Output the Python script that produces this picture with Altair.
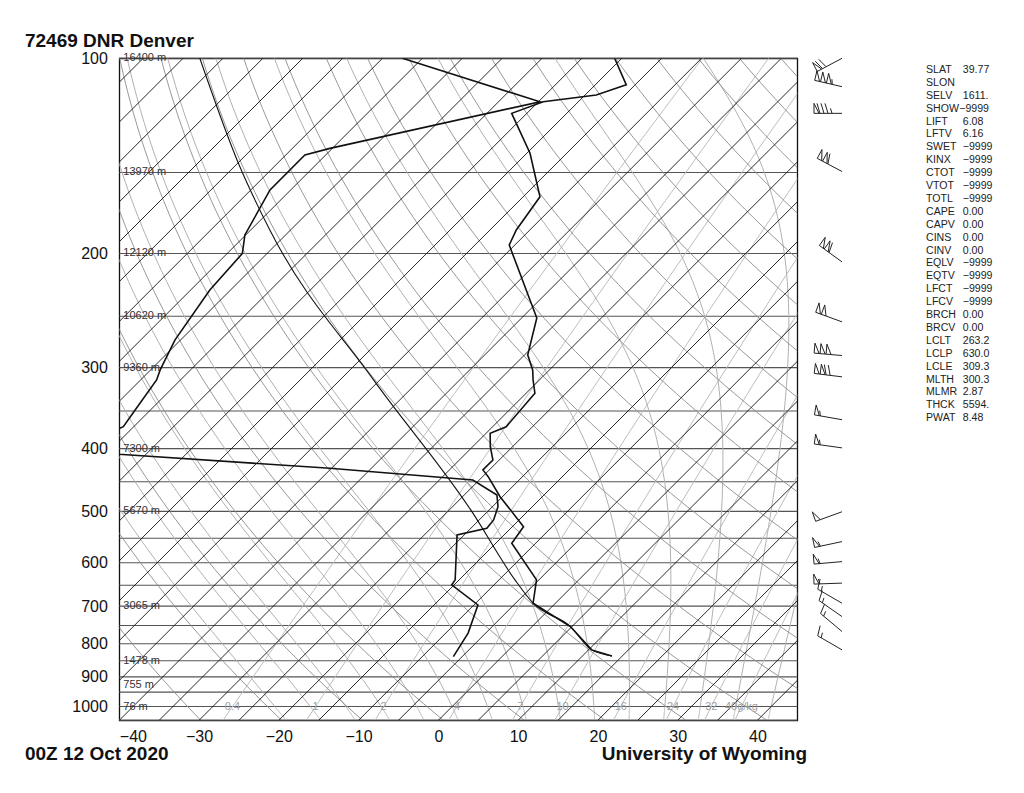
import altair as alt
import numpy as np
import pandas as pd

# ---------------- data ----------------
temp_p = [100.0, 109.9, 113.9, 116.7, 121.6, 140.1, 163.5, 184.0, 194.1, 251.5, 286.8, 302.5,
          313.4, 328.6, 370.1, 378.7, 397.2, 416.5, 431.5, 441.9, 474.5, 527.8, 559.8, 637.6,
          692.8, 752.6, 817.7, 835.5]
temp_t = [-60.9, -56.1, -58.6, -64.4, -66.9, -59.6, -52.9, -51.7, -50.7, -38.1, -34.6, -32.1,
          -30.8, -28.9, -28.3, -29.5, -27.8, -25.8, -25.8, -24.3, -20.3, -13.6, -13.0, -5.3,
          -2.8, 4.8, 10.4, 13.7]

dwpt_p = [100.0, 116.7, 137.7, 141.0, 159.6, 187.3, 200.0, 227.7, 271.9, 302.5, 313.4, 352.8,
          370.1, 390.7, 408.1, 428.9, 447.2, 471.7, 491.7, 515.3, 530.8, 543.5, 637.6, 649.2,
          697.0, 770.4, 837.5]
dwpt_t = [-87.5, -64.8, -85.3, -87.6, -87.6, -85.1, -83.1, -82.6, -80.7, -78.8, -78.0, -76.8,
          -76.3, -78.6, -73.4, -45.2, -25.8, -20.9, -19.3, -18.2, -18.0, -20.9, -15.5, -15.3,
          -9.5, -7.2, -6.1]

parcel_p = [835.5, 817.7, 752.6, 692.8, 637.6, 500.0, 313.4, 184.0, 145.2, 100.0]
parcel_t = [13.7, 10.4, 4.8, -2.8, -8.0, -22.0, -50.8, -82.6, -94.9, -112.9]

isobar_p = list(range(100, 1051, 50))
isotherm_t = list(range(-130, 50, 5))
dry_theta_k = list(range(230, 481, 10))
moist_t1000_f = list(range(-8, 121, 8))          # saturated adiabats, deg F at 1000 hPa
mixr_gkg = [0.4, 1, 2, 4, 7, 10, 16, 24, 32, 40]
mixr_lbl = ["0.4", "1", "2", "4", "7", "10", "16", "24", "32", "40g/kg"]

height_p = [100, 150, 200, 250, 300, 400, 500, 700, 850, 925, 1000]
height_lbl = ["16400 m", "13970 m", "12120 m", "10620 m", "9360 m", "7300 m", "5670 m",
              "3065 m", "1478 m", "755 m", "76 m"]

wind_p = [100.0, 110.6, 121.6, 149.5, 206.1, 255.0, 287.4, 310.0, 361.0, 399.0, 500.6, 556.6,
          597.6, 645.0, 692.7, 726.5, 766.0, 817.5]
wind_dir = [242, 283, 270, 298, 306, 290, 275, 277, 280, 278, 250, 258, 265, 268, 300, 305,
            310, 300]
wind_kt = [70, 155, 85, 110, 110, 100, 150, 120, 55, 55, 50, 55, 55, 55, 15, 15, 15, 15]

idx_names = ["SLAT", "SLON", "SELV", "SHOW", "LIFT", "LFTV", "SWET", "KINX", "CTOT", "VTOT",
             "TOTL", "CAPE", "CAPV", "CINS", "CINV", "EQLV", "EQTV", "LFCT", "LFCV", "BRCH",
             "BRCV", "LCLT", "LCLP", "LCLE", "MLTH", "MLMR", "THCK", "PWAT"]
idx_values = ["39.77", "", "1611.", "\u22129999", "6.08", "6.16", "\u22129999", "\u22129999",
              "\u22129999", "\u22129999", "\u22129999", "0.00", "0.00", "0.00", "0.00",
              "\u22129999", "\u22129999", "\u22129999", "\u22129999", "0.00", "0.00", "263.2",
              "630.0", "309.3", "300.3", "2.87", "5594.", "8.48"]

title_txt = "72469 DNR Denver"
time_txt = "00Z 12 Oct 2020"
org_txt = "University of Wyoming"

# ---------------- geometry of the diagram ----------------
W, H = 678, 662
XMIN, XMAX = -40, 45
PMIN, PMAX = 100, 1050
DEC = H / np.log10(PMAX / PMIN)       # px per decade of pressure
PXX = W / (XMAX - XMIN)               # px per degree
K = DEC / PXX                         # skew: 45 degree isotherms
SKEW = f"datum.t + {K:.4f} * log({PMAX} / datum.p) / LN10"

FONT = "Liberation Sans"
xs = alt.Scale(domain=[XMIN, XMAX], nice=False, zero=False)
ys = alt.Scale(type="log", domain=[PMIN, PMAX], reverse=True, nice=False)
AX = alt.Axis(values=list(range(-40, 41, 10)), title=None, grid=False, ticks=False, domain=False,
              labelFontSize=16, labelPadding=8, labelColor="#111", labelFont=FONT)
AY = alt.Axis(values=list(range(100, 1001, 100)), title=None, grid=False, ticks=False,
              domain=False, labelFontSize=16, labelPadding=12, labelColor="#111",
              labelFont=FONT, format="d")
X = alt.X("sx:Q", scale=xs, axis=AX)
Y = alt.Y("p:Q", scale=ys, axis=AY)

levels = np.geomspace(PMAX, PMIN, 80)

# isotherms
iso = pd.DataFrame([{"id": t, "p": p, "t": t} for t in isotherm_t for p in (PMIN, PMAX)])
# dry adiabats
dry = pd.DataFrame([{"id": th, "p": p, "t": th * (p / 1000.0) ** 0.2857 - 273.15}
                    for th in dry_theta_k for p in levels])


# moist adiabats (pseudo-adiabatic integration)
def es(tc):
    return 6.112 * np.exp(17.67 * tc / (tc + 243.5))


def dtdp(p, T):
    Rd, Cp, Lv, eps = 287.04, 1005.7, 2.501e6, 0.622
    e = es(T - 273.15)
    rs = eps * e / (p - e)
    return ((Rd * T + Lv * rs) / p) / (Cp + Lv * Lv * rs * eps / (Rd * T * T))


def moist_line(t0):
    out = []
    for target in (PMIN, PMAX):
        ps = np.geomspace(1000.0, target, 120)
        T = t0 + 273.15
        seg = [(1000.0, T)]
        for a, b in zip(ps[:-1], ps[1:]):
            h = b - a
            k1 = dtdp(a, T)
            k2 = dtdp(a + h / 2, T + h / 2 * k1)
            k3 = dtdp(a + h / 2, T + h / 2 * k2)
            k4 = dtdp(b, T + h * k3)
            T = T + h / 6 * (k1 + 2 * k2 + 2 * k3 + k4)
            seg.append((b, T))
        out += seg
    return out


moist = pd.DataFrame([{"id": f, "p": p, "t": T - 273.15}
                      for f in moist_t1000_f for p, T in moist_line((f - 32) / 1.8)])


# mixing ratio lines
def td_from_w(w, p):
    e = w * p / (622.0 + w)
    a = np.log(e / 6.112)
    return 243.5 * a / (17.67 - a)


mix = pd.DataFrame([{"id": w, "p": p, "t": td_from_w(w, p)} for w in mixr_gkg for p in levels])
mixlab = pd.DataFrame({"p": 1000.0, "t": [td_from_w(w, 1000.0) for w in mixr_gkg],
                       "lbl": mixr_lbl})


def lines(df, color, width, dash=None):
    mk = dict(clip=True, color=color, strokeWidth=width)
    if dash:
        mk["strokeDash"] = dash
    return alt.Chart(df).mark_line(**mk).transform_calculate(sx=SKEW).encode(
        x=X, y=Y, detail="id:N", order="p:Q")


iso_layer = alt.Chart(pd.DataFrame({"p": isobar_p})).mark_rule(
    color="#555", strokeWidth=1.1).encode(y=Y)

prof = lambda ps, ts, w: alt.Chart(pd.DataFrame({"p": ps, "t": ts, "id": 0})).mark_line(
    clip=True, color="#111", strokeWidth=w, interpolate="monotone" if len(ps) < 12 else "linear"
).transform_calculate(sx=SKEW).encode(x=X, y=Y, order="p:Q")

height_layer = alt.Chart(pd.DataFrame({"p": height_p, "lbl": height_lbl})).mark_text(
    align="left", baseline="middle", fontSize=11, font=FONT, color="#333", dx=4).encode(
    x=alt.value(0), y=Y, text="lbl:N")

mix_text = alt.Chart(mixlab).mark_text(
    align="center", baseline="middle", fontSize=11, font=FONT, color="#a0a0a0").transform_calculate(
    sx=SKEW).encode(x=X, y=Y, text="lbl:N")

# wind barbs: geometry built from pressure / direction / speed
segs = []
L, BL = 28.0, 10.0
base_px = W + 44.7
for p, d, s in zip(wind_p, wind_dir, wind_kt):
    by = np.log10(p / PMIN) * DEC
    r = np.radians(d)
    u = np.array([np.sin(r), -np.cos(r)])
    n = np.array([-u[1], u[0]])
    B = np.array([base_px, by])
    T = B + L * u
    pts = [(B, T)]
    s5 = int(round(s / 5.0)) * 5
    npen, rest = divmod(s5, 50)
    nfull, half = divmod(rest, 10)
    pos = 0.0
    for _ in range(npen):
        a = T - pos * u
        b = T - (pos + 5) * u
        apex = a + BL * n
        pts += [(a, apex), (apex, b)]
        pos += 6
    for _ in range(nfull):
        a = T - pos * u
        pts.append((a, a + BL * n + 3 * u))
        pos += 4
    if half:
        if npen == 0 and nfull == 0:
            pos = 4
        a = T - pos * u
        pts.append((a, a + 0.5 * BL * n + 1.5 * u))
    for a, b in pts:
        segs.append({"x": XMIN + a[0] / PXX, "p": PMIN * 10 ** (a[1] / DEC),
                     "x2": XMIN + b[0] / PXX, "p2": PMIN * 10 ** (b[1] / DEC)})
barb_layer = alt.Chart(pd.DataFrame(segs)).mark_rule(
    clip=False, color="#222", strokeWidth=1).encode(
    x=alt.X("x:Q", scale=xs, axis=AX), x2="x2:Q", y=alt.Y("p:Q", scale=ys, axis=AY), y2="p2:Q")

# index table: one text per row
TFS, TLH, TX0, TX1, TY0 = 10.6, 12.9, 806.7, 843.5, 11.7


def txt(s, x, y, **kw):
    style = dict(align="left", baseline="middle", fontSize=TFS, font=FONT, color="#222")
    style.update(kw)
    return alt.Chart(pd.DataFrame({"a": [0]})).mark_text(**style).encode(
        x=alt.value(x), y=alt.value(y), text=alt.value(s))


table = []
for i, (nm, v) in enumerate(zip(idx_names, idx_values)):
    table.append(txt(nm, TX0, TY0 + i * TLH))
    if v:
        table.append(txt(v, TX1 if nm != "SHOW" else 840, TY0 + i * TLH))


def label(s, x, y):
    return txt(s, x, y, baseline="alphabetic", fontSize=19, fontWeight="bold", color="#111")


chart = alt.layer(
    iso_layer,
    lines(mix, "#bdbdbd", 1.0),
    lines(moist, "#b0b0b0", 1.0),
    lines(dry, "#8c8c8c", 0.9),
    lines(iso, "#111", 0.9),
    mix_text,
    height_layer,
    prof(parcel_p, parcel_t, 1.1),
    prof(temp_p, temp_t, 1.6),
    prof(dwpt_p, dwpt_t, 1.6),
    barb_layer,
    *table,
    label(title_txt, -94.3, -11.6),
    label(time_txt, -94.3, 701.7),
    label(org_txt, 482.4, 701.7),
).properties(
    width=W, height=H,
    autosize=alt.AutoSizeParams(type="none"),
    padding={"left": 111.3, "top": 50.3, "right": 214, "bottom": 64},
).configure_view(stroke="#111", strokeWidth=1.3)

chart.save("out.html", embed_options={"renderer": "svg", "actions": False})
